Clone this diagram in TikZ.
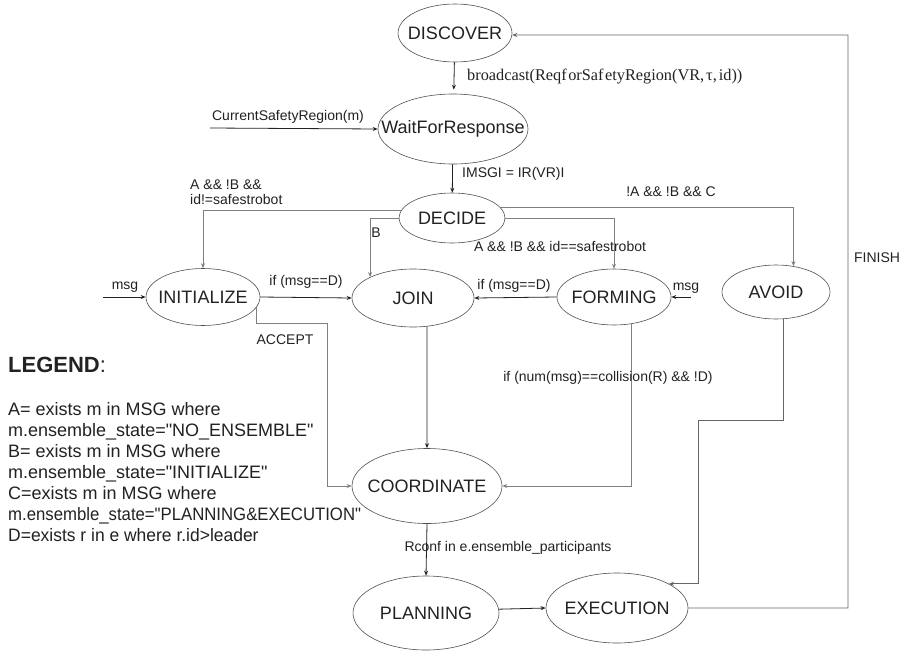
\documentclass[tikz,border=0pt]{standalone}
\usepackage{fontspec}
\setmainfont{Liberation Sans}
\newfontfamily\serifface{Liberation Serif}
\newfontfamily\legface{Liberation Sans}
\usetikzlibrary{arrows.meta,shapes.geometric}
\definecolor{inkc}{HTML}{222222}
\definecolor{rimc}{HTML}{505050}
\definecolor{greyc}{HTML}{808080}
\definecolor{darkgc}{HTML}{666666}
\newcommand{\stx}[1]{\makebox[0pt]{#1}}
\tikzset{
  state/.style={ellipse,draw=rimc,line width=0.6pt,inner sep=0pt,text=inkc,font=\fontsize{18}{20}\selectfont},
  arr/.style={-{Stealth[length=5pt,width=4pt]},line width=0.8pt,draw=inkc},
  garr/.style={-{Stealth[length=5pt,width=4pt]},line width=0.8pt,draw=greyc},
  darr/.style={-{Stealth[length=5pt,width=4pt]},line width=0.8pt,draw=darkgc},
  lbl/.style={inner sep=0pt,text=inkc,font=\fontsize{14}{16}\selectfont},
  leg/.style={inner sep=0pt,anchor=base west,text=inkc,font=\legface\fontsize{18}{21}\selectfont}
}
\begin{document}
\begin{tikzpicture}[x=1pt,y=-1pt]
\useasboundingbox[fill=white] (0,0) rectangle (901,653);

% states
\node[state,minimum width=114pt,minimum height=58pt] (DISCOVER) at (455,33) {\stx{DISCOVER}};
\node[state,minimum width=150pt,minimum height=70pt] (WAIT) at (453,129) {\stx{WaitForResponse}};
\node[state,minimum width=106pt,minimum height=50pt] (DECIDE) at (452,218) {\stx{DECIDE}};
\node[state,minimum width=114pt,minimum height=57pt] (INIT) at (203,297) {\stx{INITIALIZE}};
\node[state,minimum width=122pt,minimum height=58pt] (JOIN) at (413,298) {\stx{JOIN}};
\node[state,minimum width=114pt,minimum height=56pt] (FORMING) at (614,297) {\stx{FORMING}};
\node[state,minimum width=108pt,minimum height=54pt] (AVOID) at (776,292) {\stx{AVOID}};
\node[state,minimum width=150pt,minimum height=75pt] (COORD) at (427,486) {\stx{COORDINATE}};
\node[state,minimum width=146pt,minimum height=74pt] (PLAN) at (426,613) {\stx{PLANNING}};
\node[state,minimum width=142pt,minimum height=70pt] (EXEC) at (617,608) {\stx{EXECUTION}};

% free ends / bends
\coordinate (csr) at (210,128);
\coordinate (msgL) at (103,297);
\coordinate (msgR) at (691,297);
\coordinate (acc) at (327,323);
\coordinate (avb) at (698,420);
\coordinate (fin) at (848,35);

% connectors
\draw[arr,shorten >=4pt] (DISCOVER) -- (WAIT);
\draw[arr] (csr) -- (WAIT.west);
\draw[arr] (WAIT) -- (DECIDE);
\draw[garr] (DECIDE.171) -| (INIT.north);
\draw[garr] (DECIDE.west) -| (JOIN.154);
\draw[garr] (DECIDE.east) -| (FORMING.north);
\draw[garr] (DECIDE.13) -| (AVOID.56);
\draw[arr] (msgL) -- (INIT.west);
\draw[arr] (INIT.east) -- (JOIN.west);
\draw[arr] (FORMING.west) -- (JOIN.east);
\draw[arr] (msgR) -- (FORMING.east);
\draw[arr] (JOIN.-64) -- (COORD.north);
\draw[garr] (INIT.-11) |- (acc) |- (COORD.west);
\draw[garr] (FORMING.-57) |- (COORD.east);
\draw[arr] (COORD.south) -- (PLAN.north);
\draw[arr] (PLAN.3) -- (EXEC.west);
\draw[darr] (AVOID.-75) |- (avb) |- (EXEC.25);
\draw[darr] (EXEC.east) -| (fin) -- (DISCOVER.-2);

% labels
\node[inner sep=0pt,anchor=west,text=inkc,font=\serifface\fontsize{16.3}{18}\selectfont] (lbcast) at (467,77) {broadcast(Reqf\kern1.5pt orSaf\kern1.5pt etyRegion(VR,\kern2pt τ,\kern2pt id))};
\node[lbl] (lcsr) at (288,117) {CurrentSafetyRegion(m)};
\node[lbl,anchor=west] (lmsg) at (462,174) {IMSGI = IR(VR)I};
\node[lbl,anchor=west,align=left,font=\fontsize{14}{15.5}\selectfont] (lini) at (190,192) {A \&\& !B \&\&\\id!=safestrobot};
\node[lbl] (lavo) at (671,192) {!A \&\& !B \&\& C};
\node[lbl] (lb) at (376,233) {B};
\node[lbl] (lfor) at (560,246) {A \&\& !B \&\& id==safestrobot};
\node[lbl] (lij) at (306,282) {if (msg==D)};
\node[lbl] (lfj) at (514,286) {if (msg==D)};
\node[lbl] (lmL) at (125,287) {msg};
\node[lbl] (lmR) at (686,288) {msg};
\node[lbl] (lacc) at (285,340) {ACCEPT};
\node[lbl] (lcol) at (608,378) {if (num(msg)==collision(R) \&\& !D)};
\node[lbl] (lrc) at (508,548) {Rconf in e.ensemble\_participants};
\node[lbl] (lfin) at (877,258) {FINISH};

% legend
\node[inner sep=0pt,anchor=base west,text=inkc,font=\fontsize{22}{24}\selectfont] (legh) at (8,372) {\textbf{LEGEND}:};
\node[leg] (leg1) at (8,415) {A= exists m in MSG where};
\node[leg] (leg2) at (8,436) {m.ensemble\_state="NO\_ENSEMBLE"};
\node[leg] (leg3) at (8,457) {B= exists m in MSG where};
\node[leg] (leg4) at (8,478) {m.ensemble\_state="INITIALIZE"};
\node[leg] (leg5) at (8,499) {C=exists m in MSG where};
\node[leg] (leg6) at (8,520) {\scalebox{0.93}[1]{m.ensemble\_state="PLANNING\&EXECUTION"}};
\node[leg] (leg7) at (8,541) {\scalebox{0.97}[1]{D=exists r in e where r.id>leader}};
\end{tikzpicture}
\end{document}
